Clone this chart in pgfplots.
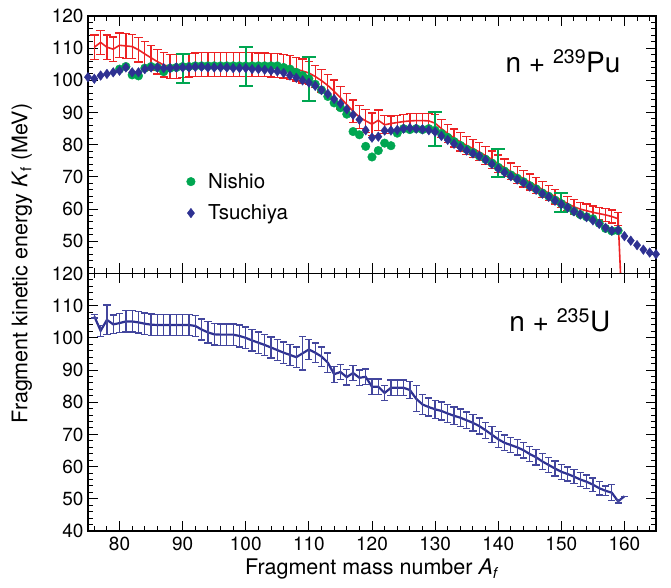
\documentclass[border=0pt]{standalone}
\usepackage{pgfplots}
\pgfplotsset{compat=1.18}
\usepackage{fontspec}
\setmainfont{TeX Gyre Heros}
\definecolor{cred}{RGB}{237,34,36}
\definecolor{cgreen}{RGB}{0,166,81}
\definecolor{cblue}{RGB}{46,49,146}
\newcommand{\tfont}{\fontsize{19}{19}\selectfont}
\newcommand{\lfont}{\fontsize{21.5}{21.5}\selectfont}
\begin{document}
\begin{tikzpicture}
\pgfplotsset{
  every axis/.append style={
    scale only axis, width=568pt, height=257.5pt,
    xmin=75, xmax=165, ymin=40, ymax=120,
    xtick={70,80,...,170}, minor x tick num=4,
    ytick={40,50,...,120}, minor y tick num=4,
    tick align=inside, major tick length=10pt, minor tick length=5pt,
    tick style={line width=1pt, black},
    axis line style={line width=1.2pt},
    /pgf/number format/assume math mode=true,
    tick label style={font=\tfont},
    label style={font=\lfont},
    xticklabel style={yshift=-3pt},
    yticklabel style={xshift=-1pt},
  }
}
\begin{axis}[name=top, xticklabels={}, yticklabels={,50,60,70,80,90,100,110,120},
  legend style={draw=none, fill=none, at={(0.168,0.405)}, anchor=north west, font=\fontsize{20.5}{20.5}\selectfont, row sep=11pt, column sep=11pt, legend cell align=left},
  ]
% red line with error bars
\addplot[cred, line width=1.6pt, forget plot,
  error bars/.cd, y dir=both, y explicit,
  error bar style={line width=1.3pt, cred},
  error mark options={rotate=90, mark size=4.2pt, line width=1.3pt, cred}]
table[x=x, y=y, y error=e] {
x y e
76 110.3 3.8
77 111.8 3.8
78 110.3 3.8
79 109.7 3.8
80 110.9 3.8
81 110.7 3.8
82 110.5 3.8
83 109.5 3.8
84 108.2 3.8
85 107.0 3.8
86 105.8 3.8
87 104.8 3.8
88 104.3 3.8
89 104.3 3.8
90 104.5 3.7
91 104.7 3.7
92 104.8 3.7
93 104.9 3.7
94 104.9 3.7
95 104.9 3.7
96 104.9 3.7
97 104.9 3.7
98 104.9 3.7
99 104.9 3.7
100 104.9 3.7
101 104.9 3.7
102 104.8 3.7
103 104.8 3.7
104 104.7 3.7
105 104.6 3.7
106 104.4 3.7
107 104.0 3.7
108 103.5 3.7
109 102.9 3.7
110 102.3 3.6
111 101.2 3.5
112 99.9 3.5
113 98.4 3.5
114 96.6 3.5
115 94.6 3.5
116 92.5 3.5
117 90.4 3.5
118 88.6 3.5
119 87.4 3.5
120 86.4 3.5
121 87.6 3.2
122 86.2 2.8
123 86.6 2.3
124 86.9 2.2
125 87.2 2.2
126 87.4 2.2
127 87.5 2.2
128 87.5 2.2
129 87.4 2.2
130 86.7 2.6
131 85.0 2.8
132 83.5 2.8
133 82.1 2.8
134 80.9 2.8
135 79.8 2.8
136 78.8 2.8
137 77.8 2.8
138 76.6 2.8
139 75.4 2.7
140 74.1 2.7
141 72.9 2.7
142 71.7 2.6
143 70.6 2.6
144 69.5 2.6
145 68.4 2.5
146 67.3 2.5
147 66.1 2.4
148 65.0 2.4
149 63.9 2.3
150 62.8 2.3
151 61.7 2.2
152 60.7 2.2
153 60.0 2.1
154 59.5 2.1
155 59.0 2.0
156 58.6 2.0
157 58.2 2.0
158 57.7 2.0
159 57.0 2.0
};
\addplot[cred, line width=1.6pt, forget plot] coordinates {(159,57.0) (159.6,30)};
% Nishio
\addplot[only marks, mark=*, mark size=4.3pt, cgreen, mark options={draw=cgreen, fill=cgreen}]
table {
80 103.5
81 104.3
82 101.7
83 101.4
84 103.8
85 104.3
86 104.0
87 102.7
88 103.8
89 104.0
90 104.3
91 104.3
92 104.5
93 104.5
94 104.5
95 104.5
96 104.5
97 104.5
98 104.5
99 104.5
100 104.5
101 104.5
102 104.5
103 104.5
104 104.5
105 104.5
106 104.0
107 103.5
108 102.5
109 101.5
110 100.5
111 98.8
112 97.0
113 95.0
114 93.0
115 91.5
116 89.5
117 84.1
118 83.1
119 79.5
120 76.2
121 78.2
122 80.5
123 79.7
124 83.6
125 85.0
126 84.7
127 85.0
128 84.7
129 85.0
130 84.5
131 83.5
132 82.3
133 81.0
134 79.8
135 78.6
136 77.6
137 76.5
138 75.5
139 74.3
140 73.0
141 71.8
142 70.6
143 69.6
144 68.5
145 67.3
146 66.3
147 65.0
148 64.0
149 62.8
150 61.7
151 60.5
152 59.3
153 58.3
154 57.6
155 57.0
156 55.6
157 54.0
158 53.2
159 53.3
};
\addlegendentry{Nishio}
% Tsuchiya
\addplot[only marks, mark=diamond*, mark size=4.8pt, cblue, mark options={draw=cblue, fill=cblue}]
table {
75 101.0
76 100.5
77 101.5
78 102.0
79 102.5
80 103.0
81 104.0
82 102.5
83 102.5
84 103.5
85 104.0
86 104.0
87 103.8
88 103.8
89 104.0
90 104.0
91 104.0
92 104.2
93 104.2
94 104.0
95 104.0
96 104.0
97 104.0
98 103.8
99 103.8
100 103.8
101 103.5
102 103.5
103 103.3
104 103.0
105 102.8
106 102.3
107 101.5
108 100.8
109 100.0
110 99.3
111 98.3
112 97.0
113 95.8
114 94.2
115 92.8
116 91.0
117 89.3
118 87.8
119 84.5
120 82.2
121 82.5
122 84.4
123 84.4
124 84.6
125 85.0
126 85.2
127 85.0
128 84.8
129 84.5
130 84.0
131 82.7
132 81.5
133 80.3
134 79.2
135 78.2
136 77.3
137 76.5
138 75.3
139 74.0
140 72.6
141 71.4
142 70.2
143 69.2
144 68.2
145 67.0
146 66.0
147 64.8
148 63.8
149 62.6
150 61.5
151 60.5
152 59.3
153 58.3
154 57.5
155 56.5
156 55.4
157 54.2
158 53.3
159 53.5
160 51.6
161 50.2
162 48.8
163 47.4
164 46.5
165 46.0
};
\addlegendentry{Tsuchiya}
% Nishio large error bars
\addplot[draw=none, mark=none, forget plot,
  error bars/.cd, y dir=both, y explicit,
  error bar style={line width=2pt, cgreen},
  error mark options={rotate=90, mark size=7pt, line width=2pt, cgreen}]
table[x=x, y=y, y error=e] {
x y e
90 103.6 4.5
100 104.4 6.1
110 100.5 6.8
130 84.9 5.4
140 74.3 4.3
150 62.2 2.95
};
\node[anchor=base west, font=\fontsize{28}{28}\selectfont] at (axis cs:140.6,102.3) {n + \textsuperscript{239}Pu};
\end{axis}
\begin{axis}[name=bottom, at={(top.south west)}, anchor=north west,
  xlabel={Fragment mass number \textit{A}\textsubscript{\textit{f}}},
  xlabel style={yshift=-1pt}]
\addplot[cblue, line width=2.2pt,
  error bars/.cd, y dir=both, y explicit,
  error bar style={line width=1.3pt, cblue!90},
  error mark options={rotate=90, mark size=3.6pt, line width=1.3pt, cblue!90}]
table[x=x, y=y, y error=e] {
x y e
76 106.7 0.5
77 102.2 1.7
78 105.6 4.6
79 104.2 2.9
80 104.6 3.0
81 105.1 3.3
82 105.1 3.3
83 104.8 3.3
84 104.4 3.3
85 104.1 3.3
86 104.0 3.3
87 104.0 3.3
88 104.0 3.3
89 104.0 3.3
90 104.0 3.3
91 104.0 3.3
92 103.7 3.3
93 102.6 3.3
94 101.7 3.3
95 101.1 3.3
96 101.0 3.3
97 101.0 3.3
98 101.0 3.3
99 100.6 3.4
100 100.0 3.4
101 99.2 3.3
102 98.5 3.3
103 97.8 3.3
104 97.0 3.3
105 96.2 3.3
106 95.4 3.3
107 94.7 3.3
108 94.0 3.2
109 95.2 5.2
110 96.4 3.1
111 95.4 3.0
112 94.2 3.0
113 92.3 3.0
114 88.7 2.5
115 89.4 2.4
116 87.8 2.4
117 89.1 2.4
118 87.6 2.4
119 87.9 2.4
120 84.8 2.4
121 84.8 2.4
122 82.9 2.4
123 84.5 2.4
124 84.5 2.4
125 84.5 2.4
126 83.8 2.6
127 81.1 4.0
128 79.3 3.0
129 78.5 2.8
130 77.8 2.8
131 77.3 2.8
132 76.5 2.8
133 75.8 2.7
134 75.2 2.7
135 74.4 2.6
136 73.6 2.5
137 72.6 2.5
138 71.3 2.5
139 69.9 2.5
140 68.5 2.5
141 67.4 2.4
142 66.7 2.4
143 66.0 2.4
144 65.1 2.4
145 63.9 2.4
146 62.9 2.4
147 61.6 2.4
148 60.5 2.3
149 59.4 2.3
150 58.4 2.3
151 57.7 2.2
152 56.9 2.2
153 56.0 2.2
154 55.3 2.1
155 54.4 2.1
156 53.3 2.1
157 52.5 1.5
158 51.9 2.5
159 49.2 0.5
160 50.8 0.0
};
\node[anchor=base west, font=\fontsize{28}{28}\selectfont] at (axis cs:141.2,102.1) {n + \textsuperscript{235}U};
\end{axis}
\node[rotate=90, font=\lfont] at ([xshift=-66pt, yshift=10pt]top.south west) {Fragment kinetic energy \textit{K}\textsubscript{f} (MeV)};
\path ([xshift=-88pt, yshift=16pt]top.north west) rectangle ([xshift=15pt, yshift=-57pt]bottom.south east);
\end{tikzpicture}
\end{document}
